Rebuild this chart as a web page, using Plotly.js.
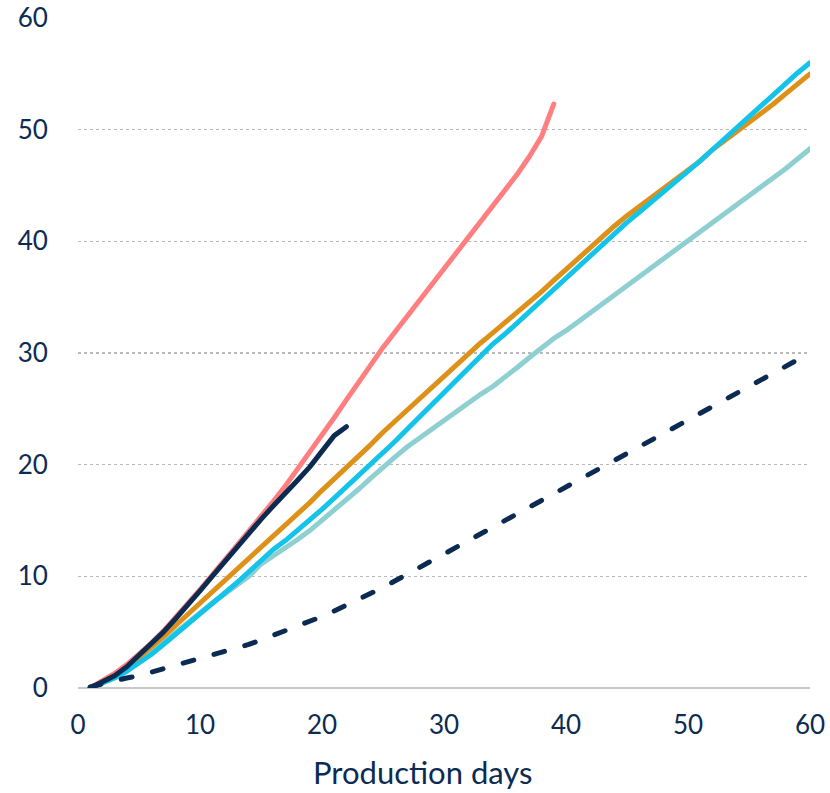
<!DOCTYPE html>
<html>
<head>
<meta charset="utf-8">
<script src="https://cdn.plot.ly/plotly-3.0.1.min.js"></script>
<style>
html,body{margin:0;padding:0;background:#fff;}
#chart{width:830px;height:793px;}
#chart .scatterlayer path.js-line{stroke-linecap:round !important;stroke-linejoin:round !important;}
</style>
</head>
<body>
<div id="chart"></div>
<script>
// X values (production days)
const days = [1,2,3,4,5,6,7,8,9,10,11,12,13,14,15,16,17,18,19,20,
  21,22,23,24,25,26,27,28,29,30,31,32,33,34,35,36,37,38,39,40,
  41,42,43,44,45,46,47,48,49,50,51,52,53,54,55,56,57,58,59,60];

// Series values (cumulative)
const seriesPink = [0,0.6,1.3,2.1,3.0,4.0,5.1,6.3,7.5,8.8,10.1,11.4,12.7,14.0,15.3,16.7,18.1,19.6,21.1,22.6,
  24.2,25.8,27.4,29.0,30.5,31.9,33.3,34.7,36.1,37.6,39.0,40.4,41.8,43.2,44.6,46.0,47.6,49.4,52.3];
const seriesNavy = [0,0.5,1.1,1.9,2.9,3.9,5.0,6.2,7.4,8.7,10.0,11.3,12.6,13.9,15.1,16.3,17.4,18.6,19.8,21.2,
  22.6,23.4];
const seriesOrange = [0,0.5,1.1,1.8,2.7,3.6,4.6,5.6,6.6,7.6,8.6,9.6,10.5,11.5,12.5,13.5,14.5,15.5,16.6,17.7,
  18.7,19.7,20.8,21.8,22.9,23.9,25.0,26.0,27.0,28.0,29.0,30.0,30.9,31.8,32.7,33.6,34.5,35.5,36.5,37.5,
  38.5,39.5,40.5,41.4,42.3,43.1,44.0,44.8,45.6,46.4,47.2,48.2,49.0,49.8,50.6,51.5,52.3,53.2,54.1,55.0];
const seriesCyan = [0,0.4,0.9,1.5,2.2,3.0,3.9,4.8,5.7,6.6,7.5,8.4,9.4,10.4,11.4,12.4,13.2,14.1,15.0,16.0,
  17.0,18.0,19.0,20.0,21.0,22.1,23.2,24.3,25.4,26.5,27.6,28.7,29.8,30.8,31.7,32.7,33.7,34.7,35.7,36.7,
  37.7,38.8,39.8,40.8,41.7,42.6,43.5,44.4,45.3,46.2,47.2,48.2,49.2,50.2,51.2,52.2,53.1,54.1,55.1,56.0];
const seriesTeal = [0,0.5,1.0,1.7,2.4,3.2,4.1,5.0,5.9,6.8,7.6,8.4,9.2,10.0,11.1,11.8,12.5,13.3,14.1,15.0,
  15.9,16.8,17.8,18.8,19.8,20.7,21.6,22.4,23.2,24.0,24.8,25.6,26.3,27.0,27.8,28.7,29.6,30.5,31.3,32.0,
  32.8,33.6,34.4,35.2,36.0,36.8,37.6,38.4,39.2,40.0,40.8,41.6,42.4,43.2,44.0,44.8,45.6,46.5,47.4,48.3];
const seriesDashed = [0.1,0.4,0.7,0.9,1.1,1.4,1.7,2.0,2.3,2.6,2.9,3.2,3.5,3.9,4.3,4.7,5.1,5.5,6.0,6.4,
  6.9,7.4,7.9,8.5,9.0,9.6,10.2,10.8,11.5,12.1,12.7,13.3,13.9,14.5,15.1,15.7,16.3,16.9,17.5,18.1,
  18.7,19.3,19.9,20.5,21.1,21.7,22.3,22.9,23.5,24.1,24.7,25.3,25.9,26.5,27.1,27.7,28.3,28.9,29.4,30.0];

const xTicks = [0,10,20,30,40,50,60];
const yTicks = [0,10,20,30,40,50,60];
const xTitle = 'Production days';

const navy = '#0c2b52';
const fontFamily = 'Lato, "Open Sans", sans-serif';
function line(y, color, dash) {
  return {
    x: days.slice(0, y.length), y: y, type: 'scatter', mode: 'lines',
    line: {color: color, width: 5, dash: dash || 'solid', shape: 'linear'},
    hoverinfo: 'skip', showlegend: false
  };
}

const data = [
  line(seriesTeal, '#8ecfd2'),
  line(seriesPink, '#ff7f80'),
  line(seriesOrange, '#de9118'),
  line(seriesCyan, '#14c3ea'),
  line(seriesNavy, navy),
  line(seriesDashed, navy, '11px,21px')
];

const tickFont = {family: fontFamily, size: 26, color: navy};

const layout = {
  width: 830, height: 793,
  margin: {l: 78, r: 20, t: 18, b: 105},
  paper_bgcolor: '#fff', plot_bgcolor: '#fff',
  showlegend: false,
  xaxis: {
    range: [0, 60], tickvals: xTicks, ticktext: xTicks.map(String),
    showgrid: false, zeroline: false, showline: false,
    ticks: 'outside', ticklen: 14, tickcolor: 'rgba(0,0,0,0)',
    tickfont: tickFont
  },
  yaxis: {
    range: [0, 60], tickvals: yTicks, ticktext: yTicks.map(String),
    showgrid: true, gridcolor: '#b9b9b9', gridwidth: 1.5, griddash: 'dot',
    zeroline: true, zerolinecolor: '#c8c8c8', zerolinewidth: 2,
    showline: false,
    ticks: 'outside', ticklen: 24, tickcolor: 'rgba(0,0,0,0)',
    tickfont: tickFont
  },
  annotations: [{
    text: xTitle, xref: 'paper', yref: 'paper', x: 0.471, y: 0,
    xanchor: 'center', yanchor: 'middle', yshift: -84, showarrow: false,
    font: {family: fontFamily, size: 31, color: navy}
  }]
};

Plotly.newPlot('chart', data, layout, {staticPlot: true, displayModeBar: false});
</script>
</body>
</html>
